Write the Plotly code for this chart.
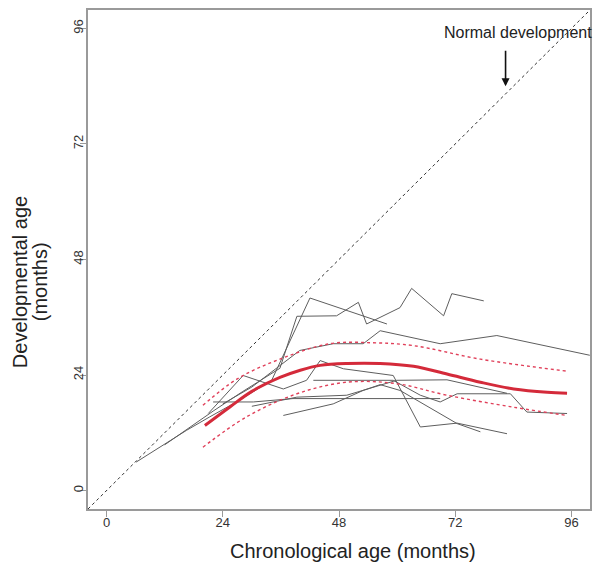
import plotly.graph_objects as go

# ---- axis ----
axis_range = [-3.84, 99.84]
tick_vals = [0, 24, 48, 72, 96]
tick_text = ["0", "24", "48", "72", "96"]

# ---- individual trajectories (chronological age, developmental age), months ----
t1_age = [6.1, 12.3, 16.5, 21.3, 27.0, 34.1, 42.0, 57.9]
t1_dev = [5.9, 9.8, 12.5, 15.3, 18.5, 22.9, 40.0, 34.6]

t2_age = [12.0, 16.5, 22.0, 28.0, 35.8, 39.3, 47.5, 52.0, 53.7, 60.6, 63.0, 69.6, 71.3, 77.9]
t2_dev = [9.5, 12.7, 16.5, 20.5, 25.4, 36.2, 36.3, 39.1, 34.6, 38.0, 42.0, 36.3, 40.9, 39.4]

t3_age = [24.0, 30.0, 39.9, 46.8, 53.0, 56.5, 68.9, 80.6, 99.8]
t3_dev = [18.0, 21.5, 29.1, 30.5, 30.5, 33.2, 30.5, 32.2, 28.1]

t4_age = [21.0, 28.2, 36.5, 41.3, 44.1, 48.9, 59.2, 64.8, 72.4, 82.7]
t4_dev = [16.0, 23.9, 21.1, 22.9, 27.0, 25.3, 23.9, 13.2, 14.0, 11.8]

t5_age = [36.5, 46.8, 53.0, 56.5, 60.6, 72.4, 77.2]
t5_dev = [15.6, 18.0, 20.8, 22.0, 20.8, 13.9, 12.2]

t6_age = [22.0, 30.3, 38.5, 46.8, 68.9]
t6_dev = [18.4, 18.4, 19.1, 19.1, 19.1]

t7_age = [42.7, 59.2, 64.8, 68.9, 72.4, 83.4, 86.8, 95.1]
t7_dev = [22.9, 22.9, 19.8, 18.4, 20.1, 20.1, 16.3, 16.0]

t8_age = [30.0, 39.3, 49.6, 55.1, 59.9, 70.3, 82.7]
t8_dev = [17.5, 19.4, 19.8, 21.5, 22.9, 23.0, 20.2]

trajectories = [(t1_age, t1_dev), (t2_age, t2_dev), (t3_age, t3_dev), (t4_age, t4_dev),
                (t5_age, t5_dev), (t6_age, t6_dev), (t7_age, t7_dev), (t8_age, t8_dev)]

# ---- fitted mean curve and confidence band ----
fit_age = [20.3, 25.4, 30.0, 35.8, 40.0, 44.1, 49.6, 56.5, 63.4, 70.3, 77.2, 84.1, 91.0, 95.1]
fit_dev = [13.5, 17.3, 20.6, 23.5, 25.0, 26.0, 26.4, 26.4, 25.8, 24.2, 22.5, 21.1, 20.4, 20.2]

upper_age = [19.9, 27.0, 35.8, 46.1, 55.0, 63.4, 77.2, 95.1]
upper_dev = [17.7, 23.2, 27.3, 30.5, 30.7, 30.1, 27.3, 24.8]

lower_age = [19.9, 28.9, 39.3, 49.6, 59.9, 70.3, 84.1, 95.1]
lower_dev = [9.0, 15.3, 20.1, 22.5, 22.2, 19.8, 17.3, 15.6]

FONT = "Liberation Sans, Arial, Helvetica, sans-serif"

fig = go.Figure()

# normal development reference line (y = x)
fig.add_trace(go.Scatter(x=axis_range, y=axis_range, mode="lines",
                         line=dict(color="#333333", width=1, dash="dot"),
                         hoverinfo="skip", showlegend=False))

for ages, devs in trajectories:
    fig.add_trace(go.Scatter(x=ages, y=devs, mode="lines",
                             line=dict(color="#5e5e5e", width=1),
                             showlegend=False))

fig.add_trace(go.Scatter(x=upper_age, y=upper_dev, mode="lines", line_shape="spline",
                         line=dict(color="#e0405a", width=1.4, dash="dot"), showlegend=False))
fig.add_trace(go.Scatter(x=lower_age, y=lower_dev, mode="lines", line_shape="spline",
                         line=dict(color="#e0405a", width=1.4, dash="dot"), showlegend=False))
fig.add_trace(go.Scatter(x=fit_age, y=fit_dev, mode="lines", line_shape="spline",
                         line=dict(color="#d42a3a", width=3), showlegend=False))

axis_common = dict(range=axis_range, tickvals=tick_vals, ticktext=tick_text,
                   showgrid=False, zeroline=False, showline=True, mirror=True,
                   linecolor="#9a9a9a", linewidth=2, ticks="outside", ticklen=6,
                   tickcolor="#9a9a9a", tickwidth=1,
                   tickfont=dict(family=FONT, size=13, color="#333333"))

fig.update_xaxes(**axis_common, ticklabelstandoff=-6)
fig.update_yaxes(**axis_common, tickangle=-90, ticklabelstandoff=-8)

annotations = [
    dict(text="Chronological age (months)", xref="paper", yref="paper",
         x=0.527, y=-0.085, xanchor="center", yanchor="middle", showarrow=False,
         font=dict(family=FONT, size=20, color="#222222")),
    dict(text="Developmental age", xref="paper", yref="paper",
         x=-0.135, y=0.455, xanchor="center", yanchor="middle", textangle=-90,
         showarrow=False, font=dict(family=FONT, size=20, color="#222222")),
    dict(text="(months)", xref="paper", yref="paper",
         x=-0.095, y=0.455, xanchor="center", yanchor="middle", textangle=-90,
         showarrow=False, font=dict(family=FONT, size=20, color="#222222")),
    dict(text="Normal development", x=84.9, y=95.1, xref="x", yref="y",
         xanchor="center", yanchor="middle", showarrow=False,
         font=dict(family=FONT, size=16, color="#222222")),
    dict(text="", x=82.4, y=84.0, xref="x", yref="y", showarrow=True,
         ax=0, ay=-37, arrowhead=2, arrowsize=1, arrowwidth=1.6, arrowcolor="#111111"),
]

# the page places the figure 8px from the top-left corner of the window
fig.update_layout(width=597, height=555, plot_bgcolor="white", paper_bgcolor="white",
                  margin=dict(l=80, r=15, t=0, b=54), annotations=annotations,
                  showlegend=False)

fig.write_html("out.html")
